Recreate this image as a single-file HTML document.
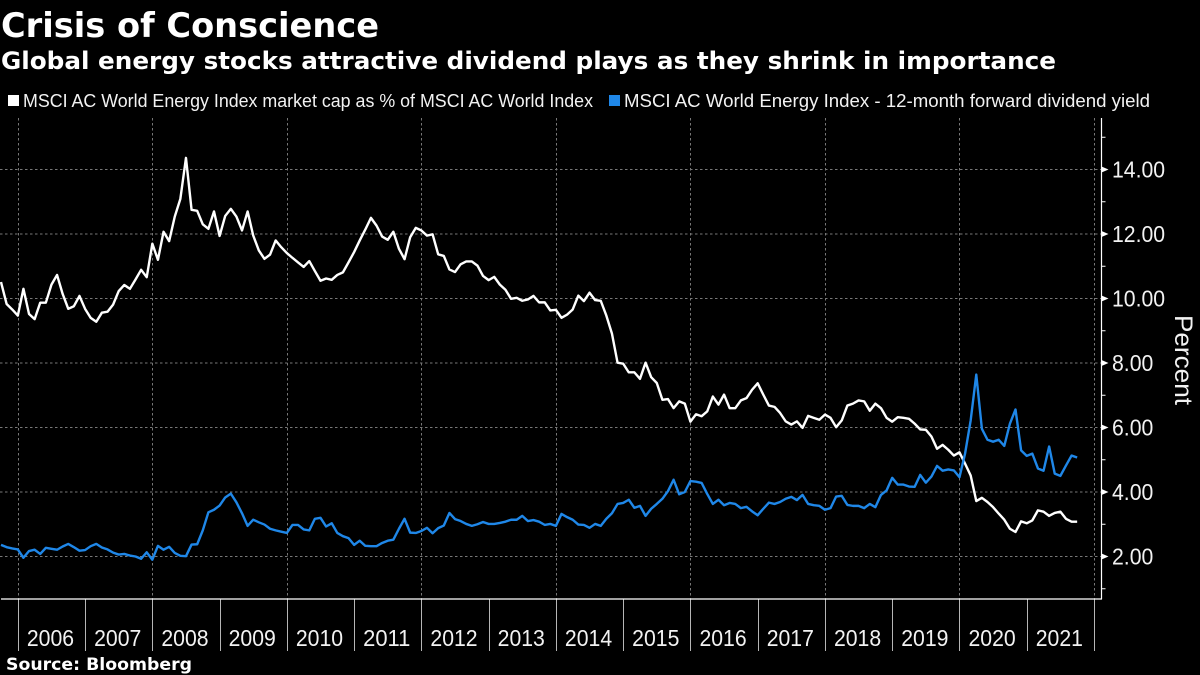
<!DOCTYPE html>
<html lang="en">
<head>
<meta charset="utf-8">
<title>Crisis of Conscience</title>
<style>
html,body{margin:0;padding:0;background:#000;width:1200px;height:675px;overflow:hidden}
svg{display:block}
.head{font-family:"DejaVu Sans","Liberation Sans",sans-serif;font-weight:700;fill:#fff}
.leg{font-family:"Liberation Sans",sans-serif;font-size:18px;fill:#f2f2f2}
.tick{font-family:"Liberation Sans",sans-serif;font-size:23px;fill:#f2f2f2}
</style>
</head>
<body>
<svg id="chart" xmlns="http://www.w3.org/2000/svg" width="1200" height="675" viewBox="0 0 1200 675">
  <rect x="0" y="0" width="1200" height="675" fill="#000"/>
  <text class="head" x="1" y="37" font-size="34" textLength="378" lengthAdjust="spacingAndGlyphs">Crisis of Conscience</text>
  <text class="head" x="1" y="69" font-size="24" textLength="1055" lengthAdjust="spacingAndGlyphs">Global energy stocks attractive dividend plays as they shrink in importance</text>
  <rect x="8" y="95" width="11" height="11" fill="#fff"/>
  <text class="leg" x="23" y="107" textLength="570" lengthAdjust="spacingAndGlyphs">MSCI AC World Energy Index market cap as % of MSCI AC World Index</text>
  <rect x="609" y="95" width="11" height="11" fill="#1f87e8"/>
  <text class="leg" x="624" y="107" textLength="526" lengthAdjust="spacingAndGlyphs">MSCI AC World Energy Index - 12-month forward dividend yield</text>
  <g id="grid"></g>
  <g id="series"></g>
  <g id="axes"></g>
  <text class="tick" transform="translate(1175,315) rotate(90)" style="font-size:25px" textLength="90" lengthAdjust="spacingAndGlyphs">Percent</text>
  <text class="head" x="6" y="670" font-size="16.5" textLength="186" lengthAdjust="spacingAndGlyphs">Source: Bloomberg</text>
</svg>
<script>
const marketCap = [10.51,9.83,9.66,9.47,10.30,9.52,9.36,9.87,9.87,10.43,10.73,10.14,9.68,9.76,10.08,9.68,9.40,9.28,9.56,9.59,9.81,10.23,10.42,10.30,10.59,10.89,10.66,11.70,11.20,12.07,11.78,12.54,13.09,14.36,12.75,12.72,12.30,12.16,12.70,11.94,12.56,12.78,12.54,12.11,12.70,11.95,11.49,11.23,11.36,11.80,11.59,11.41,11.26,11.12,10.98,11.16,10.85,10.55,10.62,10.58,10.73,10.81,11.12,11.44,11.80,12.14,12.50,12.26,11.92,11.82,12.07,11.54,
11.22,11.90,12.19,12.11,11.95,11.99,11.37,11.32,10.90,10.82,11.06,11.15,11.15,11.02,10.70,10.57,10.67,10.43,10.27,9.99,10.02,9.93,9.97,10.08,9.88,9.88,9.63,9.65,9.40,9.50,9.66,10.09,9.92,10.18,9.95,9.93,9.47,8.91,
8.01,7.98,7.71,7.71,7.51,8.01,7.56,7.38,6.86,6.88,6.60,6.81,6.74,6.18,6.41,6.35,6.50,6.96,6.71,7.02,6.60,6.60,6.84,6.91,7.17,7.37,7.02,6.68,6.64,6.45,6.19,6.09,6.19,5.99,6.36,6.30,6.24,6.40,6.30,6.01,6.22,6.68,6.74,6.84,6.81,6.52,6.74,6.60,6.30,6.18,6.32,
6.30,6.27,6.12,5.94,5.93,5.72,5.34,5.46,5.31,5.13,5.23,4.88,4.51,3.72,3.82,3.69,3.53,3.33,3.14,2.86,2.76,3.09,3.03,3.12,3.43,3.39,3.26,3.35,3.39,3.17,3.08,3.08];
const dividendYield = [2.36,2.29,2.25,2.22,1.96,2.17,2.21,2.08,2.27,2.24,2.21,2.31,2.39,2.29,2.18,2.20,2.32,2.39,2.28,2.22,2.12,2.06,2.08,2.03,2.00,1.93,2.13,1.90,2.33,2.21,2.30,2.11,2.02,2.01,2.37,2.38,2.81,3.37,3.45,3.58,3.83,3.95,3.68,3.34,2.95,3.14,3.06,2.99,2.86,2.81,2.77,2.73,2.98,2.98,2.84,2.81,3.17,3.20,2.93,3.03,2.73,2.63,2.57,2.36,2.49,2.33,2.32,2.32,2.42,2.49,2.52,2.86,
3.17,2.74,2.73,2.79,2.89,2.72,2.88,2.96,3.35,3.16,3.10,3.01,2.95,3.00,3.07,3.01,3.01,3.04,3.08,3.14,3.14,3.26,3.10,3.13,3.08,2.98,3.01,2.95,3.32,3.22,3.14,2.99,2.98,2.89,3.01,2.95,3.17,3.34,3.63,3.66,3.76,3.51,3.57,3.26,3.48,3.63,3.79,4.03,4.38,3.93,4.00,4.34,4.32,4.28,3.94,3.63,3.76,3.59,3.66,3.63,3.50,3.54,3.40,3.28,3.48,3.67,3.63,3.69,3.79,3.85,3.75,3.91,3.63,3.59,3.57,3.45,3.50,3.86,3.88,3.60,3.57,3.57,3.50,3.63,3.53,3.91,4.05,4.44,4.23,
4.23,4.17,4.16,4.53,4.29,4.48,4.81,4.66,4.70,4.67,4.46,5.19,6.22,7.64,5.96,5.62,5.56,5.62,5.43,6.12,6.56,5.29,5.12,5.19,4.73,4.66,5.41,4.57,4.50,4.82,5.13,5.07];
const yearLabels = ["2006","2007","2008","2009","2010","2011","2012","2013","2014","2015","2016","2017","2018","2019","2020","2021"];
const majorTicks = [2,4,6,8,10,12,14];
const minorTicks = [1,3,5,7,9,11,13,15];

const NS = "http://www.w3.org/2000/svg";
const gridG = document.getElementById("grid");
const seriesG = document.getElementById("series");
const axesG = document.getElementById("axes");
const axisX = 1101.5, axisBottom = 599, axisTop = 118;

function xScale(monthIndex){ return 1 + 5.605 * monthIndex; }
function yScale(v){ return 556.5 - (v - 2) * 32.25; }
function yearX(yearOffset){ return xScale(3 + 12 * yearOffset); }
function squeezedWidth(str){ return (str.replace(".", "").length * 11.8 + (str.indexOf(".") >= 0 ? 5.9 : 0)).toFixed(1); }

function make(tag, attrs, parent){
  const el = document.createElementNS(NS, tag);
  for (const k in attrs) el.setAttribute(k, attrs[k]);
  parent.appendChild(el);
  return el;
}

// horizontal gridlines
majorTicks.forEach(function(v){
  const g = make("line", {x1:0, x2:axisX, y1:yScale(v), y2:yScale(v), stroke:"#777", "stroke-width":1, "stroke-dasharray":"2.5 2.5"}, gridG);
  
  
});

// vertical gridlines on even years, year ticks and labels
for (let i = 0; i <= yearLabels.length; i++){
  const x = Math.round(yearX(i)) + 0.5;
  if (i % 2 === 0){
    const g = make("line", {x1:x, x2:x, y1:axisTop, y2:axisBottom, stroke:"#777", "stroke-width":1, "stroke-dasharray":"2.5 2.5"}, gridG);
    
    
  }
  const t = make("line", {x1:x, x2:x, y1:axisBottom, y2:651, stroke:"#b5b5b5", "stroke-width":1}, axesG);
  
  
  if (i < yearLabels.length){
    const lab = make("text", {x:(yearX(i) + yearX(i + 1)) / 2 - 1, y:646, "text-anchor":"middle", "class":"tick"}, axesG);
    
    
    lab.setAttribute('textLength', squeezedWidth(yearLabels[i]));
    lab.setAttribute('lengthAdjust', 'spacingAndGlyphs');
    lab.textContent = yearLabels[i];
  }
}

// series
function linePath(values){
  return values.map(function(v, i){ return (i ? "L" : "M") + xScale(i).toFixed(2) + " " + yScale(v).toFixed(2); }).join("");
}
const whiteLine = make("path", {d:linePath(marketCap), fill:"none", stroke:"#fff", "stroke-width":2.4, "stroke-linejoin":"round"}, seriesG);


const blueLine = make("path", {d:linePath(dividendYield), fill:"none", stroke:"#1f87e8", "stroke-width":2.4, "stroke-linejoin":"round"}, seriesG);



// axis lines
const xAxis = make("line", {x1:1, x2:axisX + 0.5, y1:axisBottom, y2:axisBottom, stroke:"#fff", "stroke-width":1.2}, axesG);


const yAxis = make("line", {x1:axisX, x2:axisX, y1:axisTop, y2:axisBottom, stroke:"#fff", "stroke-width":1.2}, axesG);



// y ticks
majorTicks.forEach(function(v){
  const y = yScale(v);
  const tri = make("path", {d:"M" + axisX + " " + (y - 3) + "L" + (axisX + 7) + " " + y + "L" + axisX + " " + (y + 3) + "Z", fill:"#fff"}, axesG);
  
  
  const lab = make("text", {x:1112, y:y + 8, "class":"tick"}, axesG);
  
  
  lab.setAttribute('textLength', squeezedWidth(v.toFixed(2)));
  lab.setAttribute('lengthAdjust', 'spacingAndGlyphs');
  lab.textContent = v.toFixed(2);
});
minorTicks.forEach(function(v){
  const y = yScale(v);
  const m = make("line", {x1:axisX, x2:axisX + 4, y1:y, y2:y, stroke:"#fff", "stroke-width":1}, axesG);
  
  
});
</script>
</body>
</html>
